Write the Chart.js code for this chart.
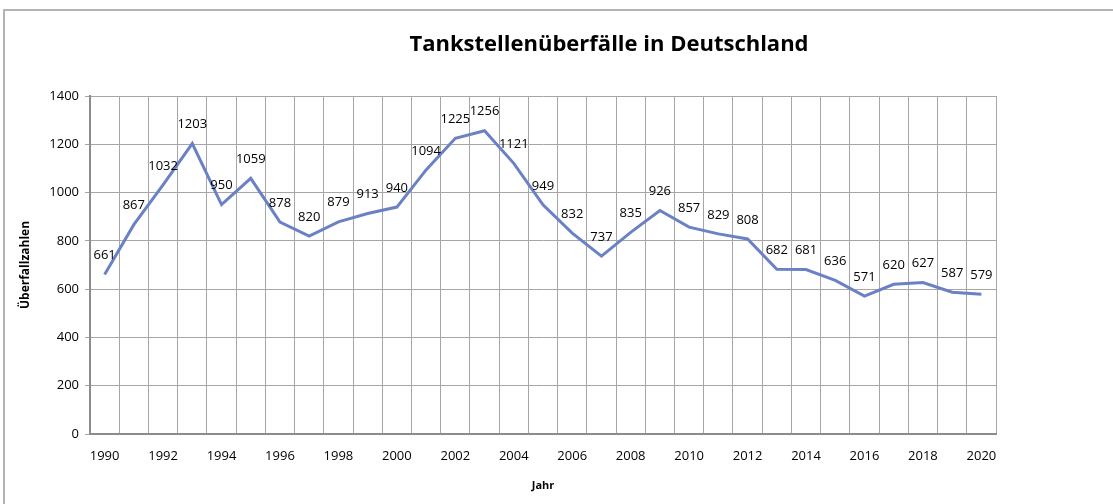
<!DOCTYPE html>
<html>
<head>
<meta charset="utf-8">
<script src="https://cdn.jsdelivr.net/npm/chart.js@4"></script>
<style>
  html, body { margin: 0; padding: 0; background: #fff; overflow: hidden; }
  #frame {
    position: absolute; left: 3px; top: 9px; width: 1120px; height: 520px;
    border: 2px solid #b4b4b4; box-sizing: border-box;
  }
  #wrap { position: absolute; left: 0; top: 0; width: 1113px; height: 504px; }
</style>
</head>
<body>
<div id="frame"></div>
<div id="wrap"><canvas id="chart" width="1113" height="504"></canvas></div>
<script>
// Daten
const years = [1990, 1991, 1992, 1993, 1994, 1995, 1996, 1997, 1998, 1999, 2000,
  2001, 2002, 2003, 2004, 2005, 2006, 2007, 2008, 2009, 2010,
  2011, 2012, 2013, 2014, 2015, 2016, 2017, 2018, 2019, 2020];
const robberies = [661, 867, 1032, 1203, 950, 1059, 878, 820, 879, 913, 940,
  1094, 1225, 1256, 1121, 949, 832, 737, 835, 926, 857,
  829, 808, 682, 681, 636, 571, 620, 627, 587, 579];
const yTicks = [0, 200, 400, 600, 800, 1000, 1200, 1400];
const chartTitle = 'Tankstellenüberfälle in Deutschland';

const FONT = "'Open Sans', 'Noto Sans', sans-serif";

// Titel und Werte über den Punkten zeichnen
const valueLabels = {
  id: 'valueLabels',
  afterDatasetsDraw(chart) {
    const ctx = chart.ctx;
    const meta = chart.getDatasetMeta(0);
    ctx.save();
    ctx.fillStyle = '#000';
    ctx.textAlign = 'center';
    ctx.textBaseline = 'middle';
    ctx.font = '13px ' + FONT;
    meta.data.forEach((pt, i) => {
      ctx.fillText(String(robberies[i]), pt.x, pt.y - 19);
    });
    ctx.font = 'bold 22px ' + FONT;
    ctx.fillText(chartTitle, 609, 45);
    ctx.restore();
  }
};

const ctx = document.getElementById('chart').getContext('2d');
new Chart(ctx, {
  type: 'line',
  data: {
    labels: years.map(String),
    datasets: [{
      data: robberies,
      borderColor: '#6a81c6',
      borderWidth: 3,
      pointRadius: 0,
      tension: 0,
      fill: false,
    }],
  },
  options: {
    responsive: false,
    animation: false,
    layout: { padding: { left: 0, right: 117, top: 96, bottom: 0 } },
    plugins: {
      legend: { display: false },
      tooltip: { enabled: false },
      title: { display: false },
    },
    scales: {
      x: {
        type: 'category',
        offset: true,
        grid: { offset: true, color: '#a6a6a6', lineWidth: 1, drawTicks: false },
        border: { color: '#8c8c8c', width: 2 },
        ticks: {
          autoSkip: false,
          maxRotation: 0,
          padding: 14,
          color: '#000',
          font: { family: FONT, size: 13 },
          callback: (v, i) => (i % 2 === 0 ? years[i] : ''),
        },
        title: {
          display: true,
          text: 'Jahr',
          color: '#000',
          font: { family: FONT, size: 11, weight: 'bold' },
          padding: { top: 0, bottom: 12 },
        },
        afterFit: (s) => { s.height = 70; },
      },
      y: {
        min: 0,
        max: 1400,
        afterBuildTicks: (s) => { s.ticks = yTicks.map(v => ({ value: v })); },
        grid: { color: '#a6a6a6', lineWidth: 1, tickLength: 5 },
        border: { color: '#8c8c8c', width: 2 },
        ticks: {
          padding: 6,
          color: '#000',
          font: { family: FONT, size: 13 },
          callback: (v) => String(v),
        },
        title: {
          display: true,
          text: 'Überfallzahlen',
          color: '#000',
          font: { family: FONT, size: 12, weight: 'bold' },
          padding: { top: 18, bottom: 0 },
        },
        afterFit: (s) => { s.width = 90; },
      },
    },
  },
  plugins: [valueLabels],
});
</script>
</body>
</html>
